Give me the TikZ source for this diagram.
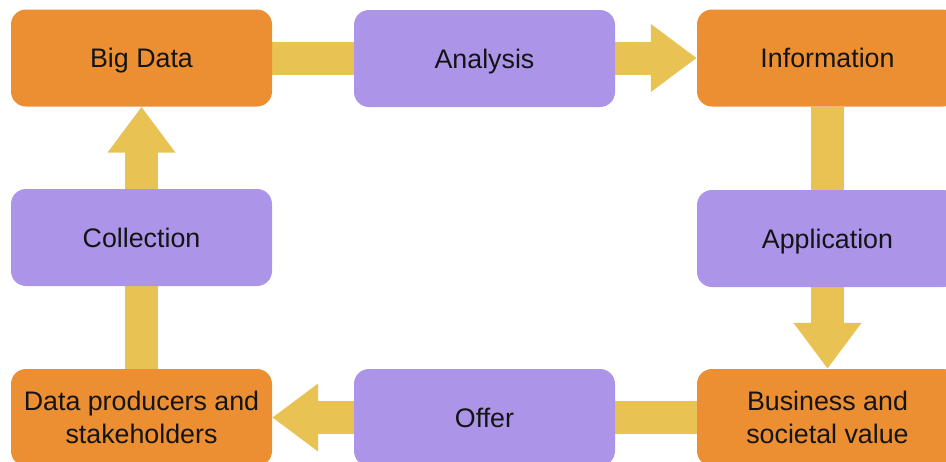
\documentclass[tikz,border=0pt]{standalone}
\usepackage{fontspec}
\setmainfont{Liberation Sans}
\usetikzlibrary{arrows.meta,backgrounds}
\definecolor{boxorange}{RGB}{235,143,50}
\definecolor{boxpurple}{RGB}{172,149,233}
\definecolor{flowyellow}{RGB}{233,194,84}
\definecolor{ink}{RGB}{20,20,20}
\begin{document}
\begin{tikzpicture}[x=1pt,y=-1pt,
  box/.style={rounded corners=15pt, minimum width=261pt, minimum height=97pt,
    inner sep=0pt, text=ink, align=center, font=\fontsize{26.8}{33}\selectfont},
  oneline/.style={text height=19.2pt, text depth=0pt},
  stage/.style={box, fill=boxorange},
  process/.style={box, fill=boxpurple},
  flow/.style={draw=flowyellow, line width=33pt, line cap=butt,
    -{Triangle[width=65pt,length=46pt]}}]
  \clip (0,0) rectangle (946,461);
  \useasboundingbox (0,0) rectangle (946,461);

  % top row
  \node[stage, oneline]   (bd)   at (141.5,58)   {Big Data};
  \node[process, oneline] (an)   at (484.5,58.5) {Analysis};
  \node[stage, oneline]   (info) at (827.5,58)   {Information};
  % middle row
  \node[process, oneline] (col)  at (141.5,237.5) {Collection};
  \node[process, oneline] (app)  at (827.5,238.5) {Application};
  % bottom row
  \node[stage]            (dp)   at (141.5,417.5) {Data producers and\\stakeholders};
  \node[process, oneline] (off)  at (484.5,417.5) {Offer};
  \node[stage]            (bus)  at (827.5,417.5) {Business and\\societal value};

  % cycle of arrows, drawn beneath the boxes
  \begin{pgfonlayer}{background}
    \draw[flow] (bd.east)    -- (info.west);
    \draw[flow] (info.south) -- (bus.north);
    \draw[flow] (bus.west)   -- (dp.east);
    \draw[flow] (dp.north)   -- (bd.south);
  \end{pgfonlayer}
\end{tikzpicture}
\end{document}
